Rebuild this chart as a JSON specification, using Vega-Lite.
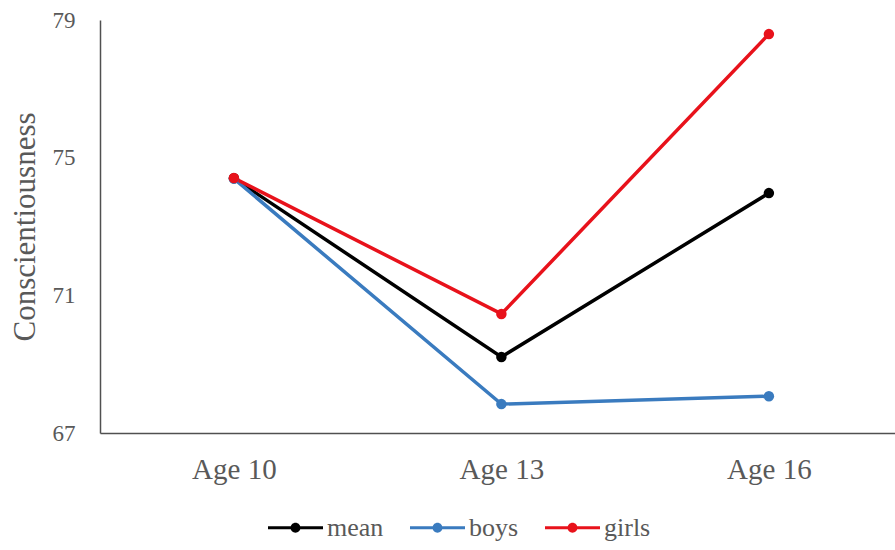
{
  "$schema": "https://vega.github.io/schema/vega-lite/v6.json",
  "autosize": {"type": "none"},
  "padding": {"left": 100, "top": 20, "right": 0, "bottom": 117},
  "width": 795,
  "height": 413,
  "background": "white",
  "config": {
    "view": {"stroke": null},
    "font": "Liberation Serif",
    "axis": {"grid": false, "ticks": false, "domainColor": "#505050", "domainWidth": 1.5, "labelColor": "#595959", "titleColor": "#595959", "labelFont": "Liberation Serif", "titleFont": "Liberation Serif", "titleFontWeight": "normal"}
  },
  "data": {
    "values": [
      {"age": "Age 10", "series": "mean", "value": 74.4},
      {"age": "Age 13", "series": "mean", "value": 69.21},
      {"age": "Age 16", "series": "mean", "value": 73.97},
      {"age": "Age 10", "series": "boys", "value": 74.39},
      {"age": "Age 13", "series": "boys", "value": 67.84},
      {"age": "Age 16", "series": "boys", "value": 68.07},
      {"age": "Age 10", "series": "girls", "value": 74.41},
      {"age": "Age 13", "series": "girls", "value": 70.46},
      {"age": "Age 16", "series": "girls", "value": 78.59}
    ]
  },
  "encoding": {
    "x": {
      "field": "age", "type": "ordinal",
      "scale": {"type": "point", "padding": 0.486, "align": 0.515},
      "axis": {"title": null, "labelAngle": 0, "labelFontSize": 29, "labelPadding": 22}
    },
    "y": {
      "field": "value", "type": "quantitative",
      "scale": {"domain": [67, 79], "nice": false, "zero": false},
      "axis": {"title": "Conscientiousness", "values": [67, 71, 75, 79], "labelFontSize": 23, "labelPadding": 25, "titleFontSize": 31, "titlePadding": 11}
    },
    "color": {
      "field": "series", "type": "nominal",
      "scale": {"domain": ["mean", "boys", "girls"], "range": ["#000000", "#3A7BBF", "#E8121B"]},
      "legend": {
        "title": null,
        "orient": "none",
        "direction": "horizontal",
        "legendX": 168,
        "legendY": 480,
        "symbolType": "M-1,-0.055L1,-0.055L1,0.055L-1,0.055Z M0.18,0A0.18,0.18 0 1,1 -0.18,0A0.18,0.18 0 1,1 0.18,0Z",
        "symbolSize": 3025,
        "symbolStrokeWidth": 0,
        "labelFontSize": 26,
        "labelColor": "#595959",
        "labelFont": "Liberation Serif",
        "labelOffset": 4,
        "columnPadding": 26,
        "encode": {"symbols": {"update": {"fill": {"scale": "color", "field": "value"}, "stroke": {"value": "transparent"}, "opacity": {"value": 1}}}}
      }
    }
  },
  "layer": [
    {"mark": {"type": "line", "strokeWidth": 3.5}},
    {"mark": {"type": "point", "filled": true, "size": 110, "opacity": 1}}
  ]
}
